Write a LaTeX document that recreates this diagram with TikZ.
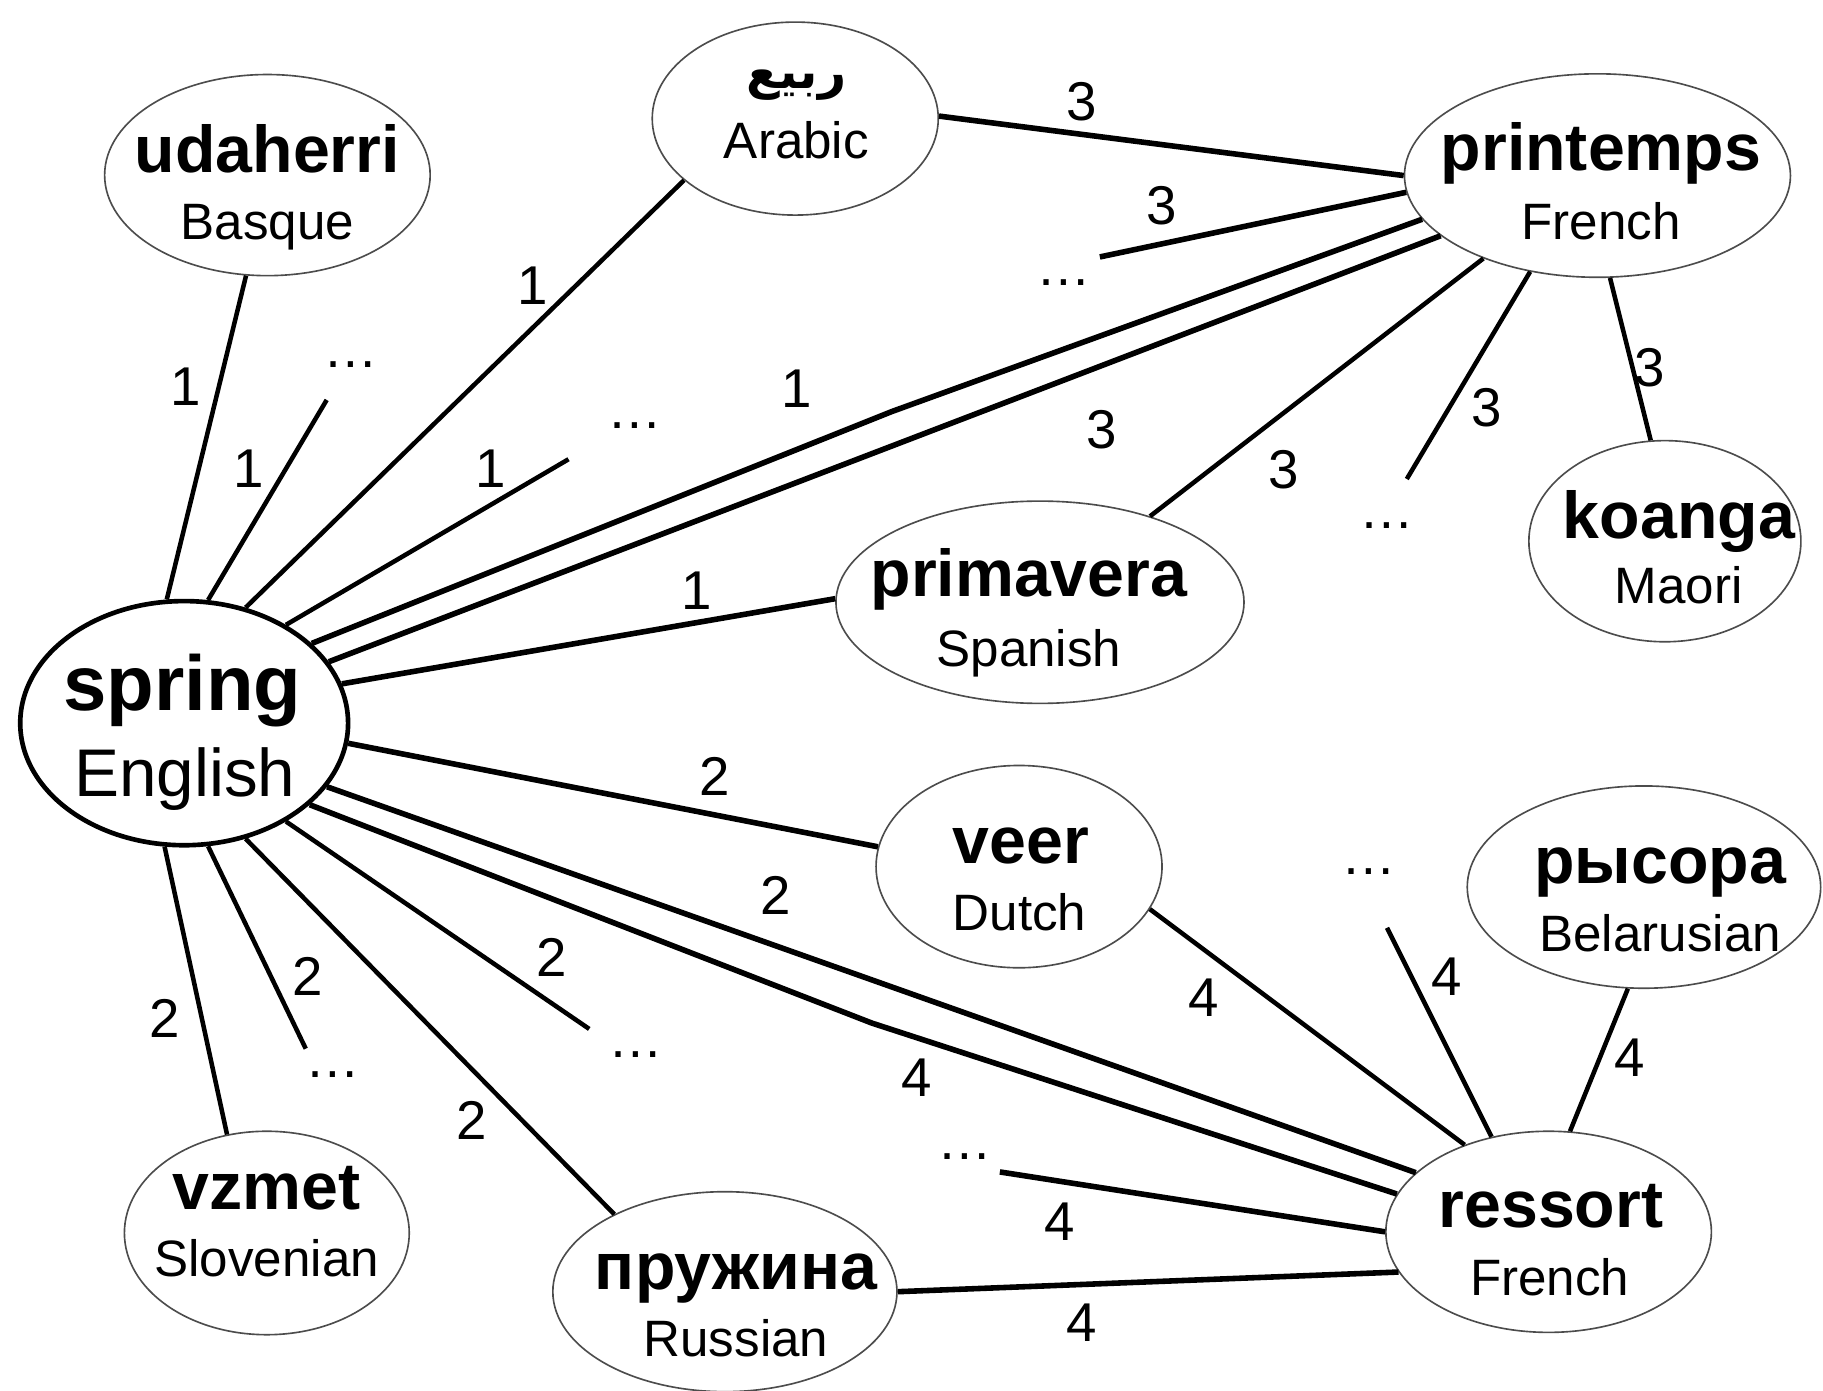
\documentclass[tikz,border=0pt]{standalone}
\usepackage{fontspec}
\setmainfont{Liberation Sans}
\newfontfamily\arabicfont[Script=Arabic]{DejaVu Sans}
\TeXXeTstate=1
\usetikzlibrary{shapes.geometric}
\tikzset{
  ell/.style={ellipse, draw=black!70, line width=1.4pt, inner sep=0pt, fill=white},
  word/.style={anchor=base, inner sep=0pt, font=\fontsize{57}{60}\selectfont\bfseries},
  lang/.style={anchor=base, inner sep=0pt, font=\fontsize{44}{48}\selectfont},
  wlab/.style={inner sep=0pt, font=\fontsize{47}{50}\selectfont},
  dotsl/.style={inner sep=0pt, font=\fontsize{47}{50}\selectfont},
  edge/.style={line width=3.9pt},
  bedge/.style={line width=4.8pt},
}
\newcommand{\ellnode}[5]{\node[ell, minimum width=#4pt, minimum height=#5pt] (#1) at (#2,#3) {};}
\begin{document}
\begin{tikzpicture}[x=1pt,y=-1pt]
\useasboundingbox (0,0) rectangle (1568,1196);
\fill[white] (0,0) rectangle (1568,1196);

% ---------- ellipses ----------
\node[ell, draw=black, line width=4pt, minimum width=282pt, minimum height=210pt] (spring) at (158.4,622) {};
\ellnode{udaherri}{230}{150.6}{280}{173}
\ellnode{arabic}{684}{102}{246}{166}
\ellnode{printemps}{1374}{151}{332}{175}
\ellnode{koanga}{1432}{465.5}{234}{173}
\ellnode{primavera}{894.5}{518}{351}{174}
\ellnode{veer}{876.5}{745.4}{246}{174}
\ellnode{rysora}{1414}{763}{304}{174}
\ellnode{ressort}{1332}{1059.5}{280}{173}
\ellnode{pruzhina}{623.5}{1111}{296}{172}
\ellnode{vzmet}{229.5}{1060.5}{245}{175}

% ---------- texts ----------
\node[anchor=base, inner sep=0pt, font=\fontsize{67}{70}\selectfont\bfseries] (spring-w) at (157,611) {spring};
\node[anchor=base, inner sep=0pt, font=\fontsize{58}{62}\selectfont] (spring-l) at (159,685) {English};
\node[word] (udaherri-w) at (230,148) {udaherri};
\node[lang] (udaherri-l) at (230,206) {Basque};
\node[anchor=base, inner sep=0pt, font=\arabicfont\bfseries\fontsize{42}{46}\selectfont] (arabic-w) at (685,76) {\beginR ربيع\endR};
\node[lang] (arabic-l) at (685,136) {Arabic};
\node[word] (printemps-w) at (1377,147) {printemps};
\node[lang] (printemps-l) at (1377,206) {French};
\node[word] (koanga-w) at (1444,463) {koanga};
\node[lang] (koanga-l) at (1444,519) {Maori};
\node[word] (primavera-w) at (885,513) {primavera};
\node[lang] (primavera-l) at (885,573) {Spanish};
\node[word] (veer-w) at (878,742.6) {veer};
\node[lang] (veer-l) at (877,800) {Dutch};
\node[word] (rysora-w) at (1428,759.5) {рысора};
\node[lang] (rysora-l) at (1428,818) {Belarusian};
\node[word] (ressort-w) at (1334,1055.8) {ressort};
\node[lang] (ressort-l) at (1333,1114.4) {French};
\node[word] (pruzhina-w) at (633,1108.7) {пружина};
\node[lang] (pruzhina-l) at (633,1166.5) {Russian};
\node[word] (vzmet-w) at (229.4,1040) {vzmet};
\node[lang] (vzmet-l) at (229.4,1097.7) {Slovenian};

% ---------- dots and free ends ----------
\node[dotsl] (dA) at (302,314) {…};      \coordinate (eA) at (281,344);
\node[dotsl] (dB) at (546,366) {…};      \coordinate (eB) at (489,395);
\node[dotsl] (dC) at (915,243) {…};      \coordinate (eC) at (946,221);
\node[dotsl] (dD) at (1193,452) {…};     \coordinate (eD) at (1210,412);
\node[dotsl] (dE) at (547,907) {…};      \coordinate (eE) at (506.8,885);
\node[dotsl] (dF) at (286,924) {…};      \coordinate (eF) at (263,902);
\node[dotsl] (dG) at (1177,750) {…};     \coordinate (eG) at (1193,798);
\node[dotsl] (dH) at (829.7,995) {…};    \coordinate (eH) at (860,1008);

% bend points of two long connectors
\coordinate (kU) at (767,354);
\coordinate (kL) at (750,880);

% ---------- edges from spring ----------
\draw[edge]  (spring.98.4)  -- (udaherri.-102.3);
\draw[edge]  (spring.79.8)  -- (eA);
\draw[edge]  (spring.62.7)  -- (arabic.209);
\draw[edge]  (spring.44.2)  -- (eB);
\draw[bedge, line join=round] (spring.32.4)  -- (kU) -- (printemps.194.6);
\draw[bedge] (spring.23.4)  -- (printemps.201.6);
\draw[bedge] (spring.14.2)  -- (primavera.179.3);
\draw[bedge] (spring.-7.7)  -- (veer.172);
\draw[bedge] (spring.-24)   -- (ressort.156.3);
\draw[bedge, line join=round] (spring.-33.8) -- (kL) -- (ressort.166.3);
\draw[edge]  (spring.-44.8) -- (eE);
\draw[edge]  (spring.-62.9) -- (pruzhina.145.2);
\draw[edge]  (spring.-79)   -- (eF);
\draw[edge]  (spring.-99.1) -- (vzmet.112.1);

% ---------- edges at printemps ----------
\draw[bedge] (arabic.1.4)   -- (printemps.180);
\draw[bedge] (eC)           -- (printemps.185.7);
\draw[edge]  (primavera.38.9) -- (printemps.216.5);
\draw[edge]  (eD)           -- (printemps.235.4);
\draw[edge]  (koanga.98.2)  -- (printemps.277.1);

% ---------- edges at ressort ----------
\draw[edge]  (veer.-18.6)   -- (ressort.134.8);
\draw[edge]  (eG)           -- (ressort.121.2);
\draw[edge]  (rysora.-99)   -- (ressort.78.6);
\draw[bedge] (eH)           -- (ressort.180);
\draw[bedge] (pruzhina.-0.6) -- (ressort.195.9);

% ---------- weights ----------
\node[wlab] (w1a) at (160,333) {1};
\node[wlab] (w1b) at (213.7,403) {1};
\node[wlab] (w1c) at (458.5,246) {1};
\node[wlab] (w1d) at (422,403) {1};
\node[wlab] (w1e) at (685.5,334) {1};
\node[wlab] (w1f) at (599.5,508) {1};
\node[wlab] (w3a) at (930.6,87.7) {3};
\node[wlab] (w3b) at (999,176.7) {3};
\node[wlab] (w3c) at (948,370) {3};
\node[wlab] (w3d) at (1104.5,403.8) {3};
\node[wlab] (w3e) at (1279,351) {3};
\node[wlab] (w3f) at (1419,316.6) {3};
\node[wlab] (w2a) at (614.6,668) {2};
\node[wlab] (w2b) at (667.5,770) {2};
\node[wlab] (w2c) at (474.4,823.6) {2};
\node[wlab] (w2d) at (405.6,963.4) {2};
\node[wlab] (w2e) at (264.3,840) {2};
\node[wlab] (w2f) at (141.8,875.7) {2};
\node[wlab] (w4a) at (788.7,927) {4};
\node[wlab] (w4b) at (1035,858) {4};
\node[wlab] (w4c) at (1244.6,840) {4};
\node[wlab] (w4d) at (1402,910) {4};
\node[wlab] (w4e) at (911.8,1050.7) {4};
\node[wlab] (w4f) at (930,1137.8) {4};
\end{tikzpicture}
\end{document}
